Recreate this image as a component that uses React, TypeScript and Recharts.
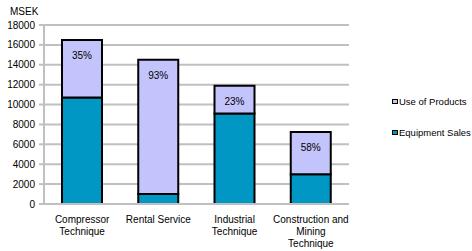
import React from 'react';
import { BarChart, Bar, XAxis, YAxis, CartesianGrid, LabelList } from 'recharts';

const categories = ['Compressor Technique', 'Rental Service', 'Industrial Technique', 'Construction and Mining Technique'];
const tickLines = [['Compressor', 'Technique'], ['Rental Service'], ['Industrial', 'Technique'], ['Construction and', 'Mining', 'Technique']];
const equipmentSales = [10700, 1000, 9100, 3000];
const useOfProducts = [5800, 13500, 2800, 4250];
const useShare = ['35%', '93%', '23%', '58%'];
const yTicks = [0, 2000, 4000, 6000, 8000, 10000, 12000, 14000, 16000, 18000];
const legendItems = ['Use of Products', 'Equipment Sales'];

const data = categories.map((c, i) => ({
  name: c,
  idx: i,
  equipment: equipmentSales[i],
  use: useOfProducts[i],
  share: useShare[i],
}));

const FONT = '"Liberation Sans", Arial, sans-serif';
const EQ_COLOR = '#0097C4';
const USE_COLOR = '#C4C4FC';
const legendColors = [USE_COLOR, EQ_COLOR];

const XTick = (props: any) => {
  const { x, y, payload } = props;
  const lines = tickLines[payload.index] || [payload.value];
  return (
    <g>
      {lines.map((l: string, k: number) => (
        <text key={k} x={x} y={y + 10.5 + k * 12} textAnchor="middle" fontSize={10} fontFamily={FONT} fill="#000">
          {l}
        </text>
      ))}
    </g>
  );
};

const ShareLabel = (props: any) => {
  const { x, y, width, value } = props;
  return (
    <text x={x + width / 2} y={y + 19} textAnchor="middle" fontSize={10} fontFamily={FONT} fill="#000">
      {value}
    </text>
  );
};

export default function App() {
  return (
    <div style={{ position: 'absolute', left: 0, top: 0, width: 472, height: 251, background: '#fff', overflow: 'hidden' }}>
      <div style={{ position: 'absolute', left: 10, top: 6, fontFamily: FONT, fontSize: 10, color: '#000' }}>MSEK</div>
      <div style={{ position: 'absolute', left: 392, top: 95, fontFamily: FONT, fontSize: 9.5, color: '#000', whiteSpace: 'nowrap' }}>
        {legendItems.map((label, k) => (
          <div key={k} style={{ display: 'flex', alignItems: 'center', height: 12, marginBottom: k === 0 ? 19 : 0 }}>
            <span
              style={{
                display: 'inline-block',
                width: 4,
                height: 3,
                background: legendColors[k],
                border: '1.5px solid #000',
                marginRight: 1,
              }}
            />
            <span>{label}</span>
          </div>
        ))}
      </div>
      <BarChart
        width={472}
        height={251}
        data={data}
        margin={{ top: 25, right: 123, bottom: 7, left: 0 }}
        barSize={40}
      >
        <CartesianGrid vertical={false} stroke="#C0C0C0" strokeWidth={2} />
        <XAxis
          dataKey="name"
          height={40}
          axisLine={{ stroke: '#C0C0C0', strokeWidth: 2 }}
          tickLine={false}
          tick={<XTick />}
          interval={0}
        />
        <YAxis
          width={44}
          domain={[0, 18000]}
          ticks={yTicks}
          interval={0}
          axisLine={{ stroke: '#C0C0C0', strokeWidth: 2 }}
          tickLine={{ stroke: '#C0C0C0', strokeWidth: 2 }}
          tickSize={5}
          tickMargin={4}
          tick={{ fontSize: 10, fontFamily: FONT, fill: '#000' }}
        />
        <YAxis
          yAxisId="right"
          orientation="right"
          width={0}
          domain={[0, 18000]}
          ticks={[]}
          axisLine={{ stroke: '#C0C0C0', strokeWidth: 2 }}
          tickLine={false}
          tick={false}
        />
        <Bar dataKey="equipment" stackId="a" fill={EQ_COLOR} stroke="#000" strokeWidth={2} isAnimationActive={false} />
        <Bar dataKey="use" stackId="a" fill={USE_COLOR} stroke="#000" strokeWidth={2} isAnimationActive={false}>
          <LabelList dataKey="share" content={<ShareLabel />} />
        </Bar>
      </BarChart>
    </div>
  );
}
